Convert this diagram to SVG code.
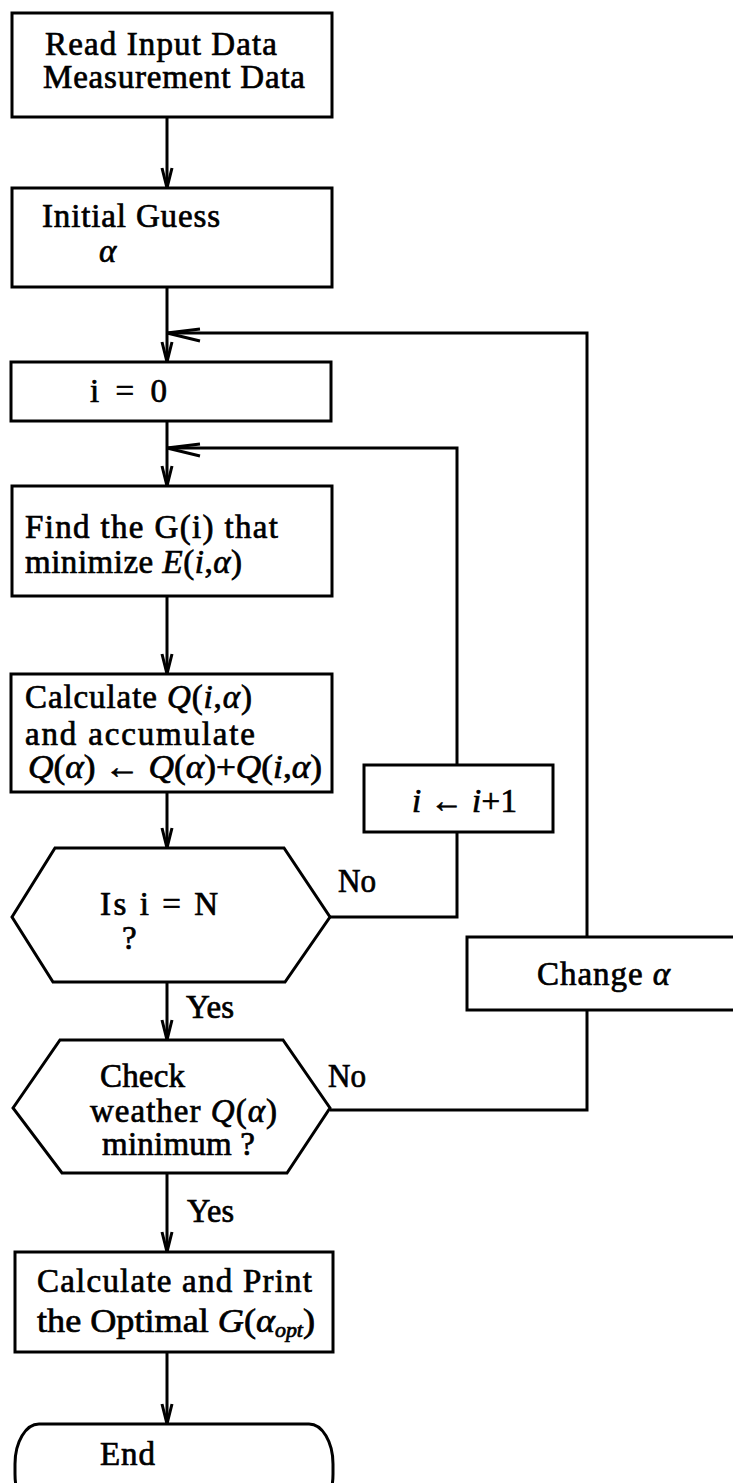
<svg xmlns="http://www.w3.org/2000/svg" width="733" height="1483" viewBox="0 0 733 1483">
<style>
.sh{fill:#fff;stroke:#000;stroke-width:3;stroke-linejoin:miter}
.ln{fill:none;stroke:#000;stroke-width:3}
text{font-family:"Liberation Serif","DejaVu Serif",serif;font-size:33px;fill:#000;stroke:#000;stroke-width:0.7}
.it{font-style:italic}
</style>
<defs>
<marker id="av" markerUnits="userSpaceOnUse" markerWidth="40" markerHeight="40" viewBox="-30 -15 40 30" refX="0" refY="0" orient="auto">
<path d="M-20,-5 L0,0 L-20,5" fill="none" stroke="#000" stroke-width="3"/>
</marker>
<marker id="ah" markerUnits="userSpaceOnUse" markerWidth="50" markerHeight="40" viewBox="-40 -15 50 30" refX="0" refY="0" orient="auto">
<path d="M-33,-8 L0,0 L-33,4" fill="none" stroke="#000" stroke-width="3"/>
</marker>
</defs>
<rect width="733" height="1483" fill="#fff" stroke="none"/>
<g id="connectors">
<path class="ln" d="M167,117 V188" marker-end="url(#av)"/>
<path class="ln" d="M167,287 V362" marker-end="url(#av)"/>
<path class="ln" d="M167,421 V486" marker-end="url(#av)"/>
<path class="ln" d="M167,596 V674" marker-end="url(#av)"/>
<path class="ln" d="M167,792 V848" marker-end="url(#av)"/>
<path class="ln" d="M167,982 V1040" marker-end="url(#av)"/>
<path class="ln" d="M167,1173 V1252" marker-end="url(#av)"/>
<path class="ln" d="M167,1352 V1424" marker-end="url(#av)"/>
<path class="ln" d="M330,917 H457 V832"/>
<path class="ln" d="M457,765 V448 H167" marker-end="url(#ah)"/>
<path class="ln" d="M330,1110 H587 V1010"/>
<path class="ln" d="M587,937 V333 H167" marker-end="url(#ah)"/>
<text x="338" y="892" textLength="38" lengthAdjust="spacingAndGlyphs">No</text>
<text x="328" y="1087" textLength="38" lengthAdjust="spacingAndGlyphs">No</text>
<text x="186" y="1018" textLength="48" lengthAdjust="spacingAndGlyphs">Yes</text>
<text x="187" y="1222" textLength="47" lengthAdjust="spacingAndGlyphs">Yes</text>
</g>
<g id="read-input">
<rect class="sh" x="12" y="13" width="320" height="104"/>
<text x="45" y="55" textLength="232" lengthAdjust="spacing">Read Input Data</text>
<text x="43" y="88" textLength="262" lengthAdjust="spacing">Measurement Data</text>
</g>
<g id="initial-guess">
<rect class="sh" x="12" y="188" width="320" height="99"/>
<text x="42" y="227" textLength="178" lengthAdjust="spacing">Initial Guess</text>
<text x="99" y="262" class="it">α</text>
</g>
<g id="i-zero">
<rect class="sh" x="11" y="362" width="320" height="59"/>
<text x="90" y="402" textLength="77" lengthAdjust="spacing">i = 0</text>
</g>
<g id="find-g">
<rect class="sh" x="12" y="486" width="320" height="110"/>
<text x="25" y="538" textLength="253" lengthAdjust="spacing">Find the G(i) that</text>
<text x="25" y="573" textLength="217" lengthAdjust="spacing">minimize <tspan class="it">E</tspan>(<tspan class="it">i</tspan>,<tspan class="it">α</tspan>)</text>
</g>
<g id="calc-q">
<rect class="sh" x="11" y="674" width="321" height="118"/>
<text x="25" y="708" textLength="227" lengthAdjust="spacing">Calculate <tspan class="it">Q</tspan>(<tspan class="it">i</tspan>,<tspan class="it">α</tspan>)</text>
<text x="25" y="745" textLength="230" lengthAdjust="spacing">and  accumulate</text>
<text x="28" y="778" textLength="294" lengthAdjust="spacingAndGlyphs"><tspan class="it">Q</tspan>(<tspan class="it">α</tspan>) ← <tspan class="it">Q</tspan>(<tspan class="it">α</tspan>)+<tspan class="it">Q</tspan>(<tspan class="it">i</tspan>,<tspan class="it">α</tspan>)</text>
</g>
<g id="increment">
<rect class="sh" x="364" y="765" width="189" height="67"/>
<text x="412" y="812" textLength="105" lengthAdjust="spacing"><tspan class="it">i</tspan> ← <tspan class="it">i</tspan>+1</text>
</g>
<g id="is-i-n">
<polygon class="sh" points="12,917 55,848 284,848 330,917 285,982 53,982"/>
<text x="100" y="915" textLength="118" lengthAdjust="spacing">Is i = N</text>
<text x="122" y="949">?</text>
</g>
<g id="change-alpha">
<rect class="sh" x="467" y="937" width="275" height="73"/>
<text x="537" y="985" textLength="133" lengthAdjust="spacing">Change <tspan class="it">α</tspan></text>
</g>
<g id="check-min">
<polygon class="sh" points="13,1108 60,1040 283,1040 330,1108 287,1173 62,1173"/>
<text x="100" y="1087" textLength="85" lengthAdjust="spacing">Check</text>
<text x="90" y="1122" textLength="187" lengthAdjust="spacing">weather <tspan class="it">Q</tspan>(<tspan class="it">α</tspan>)</text>
<text x="102" y="1155" textLength="153" lengthAdjust="spacing">minimum ?</text>
</g>
<g id="print-opt">
<rect class="sh" x="15" y="1252" width="318" height="100"/>
<text x="37" y="1292" textLength="275" lengthAdjust="spacing">Calculate and Print</text>
<text x="37" y="1332" textLength="278" lengthAdjust="spacingAndGlyphs">the Optimal <tspan class="it">G</tspan>(<tspan class="it">α</tspan><tspan class="it" font-size="20" dy="5">opt</tspan><tspan dy="-5">)</tspan></text>
</g>
<g id="end">
<rect class="sh" x="15" y="1424" width="318" height="90" rx="24" ry="40"/>
<text x="100" y="1465" textLength="55" lengthAdjust="spacing">End</text>
</g>
</svg>
